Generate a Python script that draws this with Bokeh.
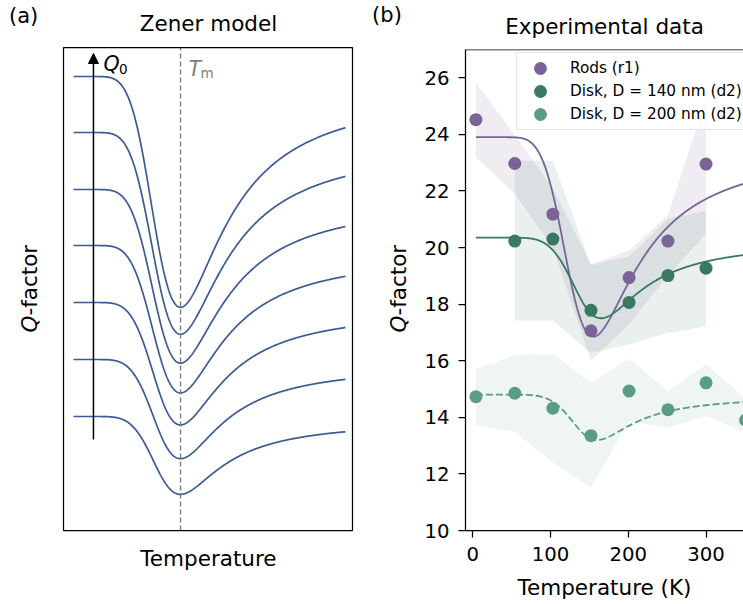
import numpy as np
from bokeh.plotting import figure
from bokeh.models import (Range1d, Span, Label, Arrow, NormalHead, FixedTicker,
                          Legend, LegendItem, BoxAnnotation)
from bokeh.layouts import row
from bokeh.embed import file_html
from bokeh.resources import INLINE

FONT = "DejaVu Sans"

# ---------------- Panel (a): Zener model (arbitrary units) ----------------
zener_Q0 = [7.34, 6.78, 6.21, 5.65, 5.08, 4.51, 3.94]   # low-T plateau of each curve
zener_delta = 0.0625                                     # relaxation strength
zener_E = 4.27                                           # activation energy (a.u.)
zener_Tm = 1.0                                           # temperature of the dip
zener_T_range = [0.0855, 2.41]
box_a_x = [0.0, 2.470]       # extent of the (a) axes box
box_a_y = [2.80, 7.63]

# ---------------- Panel (b): experimental data ----------------
T_rods = [4, 54, 103, 152, 201, 251, 300]
Q_rods = [24.52, 22.97, 21.18, 17.06, 18.94, 20.23, 22.95]
rods_hi = [25.83, 23.97, 22.10, 19.40, 19.90, 21.14, 25.25]
rods_lo = [23.20, 21.90, 20.00, 16.00, 17.30, 19.00, 20.50]

T_d140 = [54, 103, 152, 201, 251, 300]
Q_d140 = [20.23, 20.30, 17.78, 18.06, 19.01, 19.27]
d140_hi = [23.07, 23.07, 19.38, 19.68, 21.02, 21.28]
d140_lo = [17.42, 17.42, 16.27, 16.57, 16.98, 17.21]

T_d200 = [4, 54, 103, 152, 201, 251, 300, 351]
Q_d200 = [14.73, 14.85, 14.32, 13.35, 14.93, 14.27, 15.22, 13.90]
d200_hi = [15.70, 16.20, 16.23, 15.22, 16.07, 14.93, 15.87, 14.65]
d200_lo = [13.73, 13.49, 12.40, 11.52, 13.87, 13.63, 14.05, 13.46]

# Zener fits: [Q0, delta, E (K), Tm (K)]
fit_rods = [23.9, 0.01751, 675.0, 155.0]
fit_d140 = [20.35, 0.0080, 733.0, 165.0]
fit_d200 = [14.8, 0.00819, 765.0, 160.0]
fit_T_range = [4, 360]

labels_b = ["Rods (r1)", "Disk, D = 140 nm (d2)", "Disk, D = 200 nm (d2)"]
x_ticks_b = [0, 100, 200, 300]
y_ticks_b = [10, 12, 14, 16, 18, 20, 22, 24, 26]

C_LINE_A = "#3b5a94"
C_RODS = "#7a6397"
C_D140 = "#3b7861"
C_D200 = "#5c9c84"


def zener(T, Q0, delta, E, Tm):
    T = np.asarray(T, dtype=float)
    u = E * (1.0 / T - 1.0 / Tm)
    return 1.0 / (1.0 / Q0 + delta / np.cosh(u))


def lab(p, x, y, text, size, **kw):
    kw.setdefault("text_baseline", "alphabetic")
    kw.setdefault("text_color", "black")
    p.add_layout(Label(x=x, y=y, text=text, text_font=FONT,
                       text_font_size=size, **kw))


# ======================= figure (a) : whole left canvas =======================
pa = figure(width=421, height=604, x_range=Range1d(-0.5385, 3.0598), y_range=Range1d(2.06, 8.10),
            output_backend="svg", toolbar_location=None,
            x_axis_location=None, y_axis_location=None,
            min_border_left=0, min_border_right=0, min_border_top=0, min_border_bottom=0)
pa.frame_align = False
pa.grid.visible = False
pa.outline_line_color = None

pa.add_layout(BoxAnnotation(left=box_a_x[0], right=box_a_x[1], bottom=box_a_y[0], top=box_a_y[1],
                            fill_color=None, fill_alpha=0, line_color="black",
                            line_alpha=1.0, line_width=1.25))

Ta = np.linspace(zener_T_range[0], zener_T_range[1], 500)
for q0 in zener_Q0:
    pa.line(Ta, zener(Ta, q0, zener_delta, zener_E, zener_Tm),
            line_color=C_LINE_A, line_width=1.7)

pa.line([zener_Tm, zener_Tm], box_a_y, line_color="#808080", line_dash="5 3", line_width=1.5)
pa.add_layout(Arrow(end=NormalHead(size=10, fill_color="black", line_color="black"),
                    x_start=0.256, y_start=3.71, x_end=0.256, y_end=7.57,
                    line_color="black", line_width=1.5))

lab(pa, -0.466, 7.945, "(a)", "21px")
lab(pa, 1.239, 7.875, "Zener model", "21.5px", text_align="center")
lab(pa, 0.342, 7.47, "Q", "20.5px", text_font_style="italic")
lab(pa, 0.474, 7.415, "0", "13.5px")
lab(pa, 1.068, 7.42, "T", "20.5px", text_font_style="italic", text_color="#808080")
lab(pa, 1.171, 7.375, "m", "13.5px", text_color="#808080")
lab(pa, 1.239, 2.525, "Temperature", "21.5px", text_align="center")
lab(pa, -0.291, 4.78, "Q", "21.5px", text_font_style="italic", angle=np.pi / 2)
lab(pa, -0.291, 4.949, "-factor", "21.5px", angle=np.pi / 2)
# panel (b) left-margin texts
lab(pa, 2.6376, 7.96, "(b)", "21px")
lab(pa, 2.859, 4.78, "Q", "21.5px", text_font_style="italic", angle=np.pi / 2)
lab(pa, 2.859, 4.949, "-factor", "21.5px", angle=np.pi / 2)

# ======================= figure (b) =======================
pb = figure(width=322, height=604, x_range=Range1d(-9.4, 348.2), y_range=Range1d(10, 27),
            output_backend="svg", toolbar_location=None,
            min_border_left=42, min_border_right=0, min_border_top=47, min_border_bottom=74,
            title="Experimental data")
pb.frame_align = False
pb.grid.visible = False
pb.outline_line_color = None
pb.title.text_font = FONT
pb.title.text_font_size = "21.5px"
pb.title.text_font_style = "normal"
pb.title.text_color = "black"
pb.title.align = "center"
pb.title.offset = 3
pb.title.standoff = 22

for ax in (pb.xaxis[0], pb.yaxis[0]):
    ax.axis_line_width = 1.25
    ax.axis_line_color = "black"
    ax.major_tick_line_width = 1.25
    ax.major_tick_line_color = "black"
    ax.major_tick_out = 7
    ax.major_tick_in = 0
    ax.minor_tick_line_color = None
    ax.major_label_text_font = FONT
    ax.major_label_text_font_size = "19.7px"
    ax.major_label_text_color = "black"
pb.xaxis[0].ticker = FixedTicker(ticks=x_ticks_b)
pb.yaxis[0].ticker = FixedTicker(ticks=y_ticks_b)
pb.xaxis[0].major_label_standoff = 9
pb.yaxis[0].major_label_standoff = 9
pb.xaxis[0].axis_label = "Temperature (K)"
pb.xaxis[0].axis_label_text_font = FONT
pb.xaxis[0].axis_label_text_font_size = "21.5px"
pb.xaxis[0].axis_label_text_font_style = "normal"
pb.xaxis[0].axis_label_text_color = "black"
pb.xaxis[0].axis_label_standoff = 11

# shaded uncertainty bands
pb.varea(x=T_rods, y1=rods_lo, y2=rods_hi, fill_color=C_RODS, fill_alpha=0.12)
pb.varea(x=T_d140, y1=d140_lo, y2=d140_hi, fill_color=C_D140, fill_alpha=0.11)
pb.varea(x=T_d200, y1=d200_lo, y2=d200_hi, fill_color=C_D200, fill_alpha=0.10)

# Zener fits
Tb = np.linspace(fit_T_range[0], fit_T_range[1], 600)
pb.line(Tb, zener(Tb, *fit_rods), line_color=C_RODS, line_width=1.8)
pb.line(Tb, zener(Tb, *fit_d140), line_color=C_D140, line_width=1.8)
pb.line(Tb, zener(Tb, *fit_d200), line_color=C_D200, line_width=1.8, line_dash="7 3")

# data points (13 px circles)
pt = dict(width=13, height=13, width_units="screen", height_units="screen", line_width=0)
r1 = pb.ellipse(T_rods, Q_rods, fill_color=C_RODS, line_color=C_RODS, **pt)
r2 = pb.ellipse(T_d140, Q_d140, fill_color=C_D140, line_color=C_D140, **pt)
r3 = pb.ellipse(T_d200, Q_d200, fill_color=C_D200, line_color=C_D200, **pt)

legend = Legend(items=[LegendItem(label=labels_b[0], renderers=[r1]),
                       LegendItem(label=labels_b[1], renderers=[r2]),
                       LegendItem(label=labels_b[2], renderers=[r3])],
                location=(51, 400), margin=0, padding=6, spacing=5,
                glyph_width=34, glyph_height=16, label_height=16, label_standoff=13,
                label_text_font=FONT, label_text_font_size="15.3px",
                label_text_color="black",
                border_line_color="#cccccc", border_line_width=1,
                background_fill_color="white", background_fill_alpha=0.8)
pb.add_layout(legend)

# top spine drawn on the overlay level so it stays above the legend box
pb.add_layout(Span(location=27, dimension="width", line_color="black", line_width=1.25,
                   level="overlay"))

layout = row(pa, pb)
with open("out.html", "w") as f:
    f.write(file_html(layout, INLINE))
